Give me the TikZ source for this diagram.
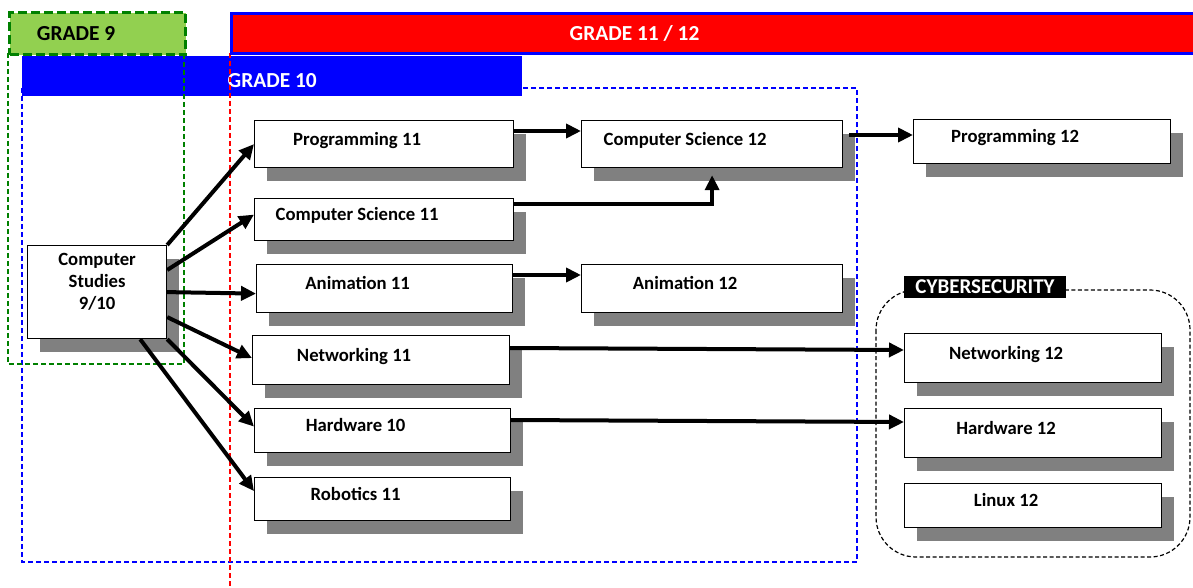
\documentclass[tikz,border=0pt]{standalone}
\usepackage{fontspec}
\setmainfont{Carlito}
\usetikzlibrary{positioning, calc, shadows, arrows.meta}

\definecolor{gradegreen}{RGB}{146,208,80}
\definecolor{darkgreen}{RGB}{0,128,0}
\definecolor{shadowgray}{RGB}{128,128,128}

\begin{document}
\begin{tikzpicture}[x=1pt, y=-1pt,
        box/.style={draw, line width=1.2pt, fill=white, anchor=north west,
            font=\fontsize{18.7}{22}\selectfont\bfseries,
            drop shadow={shadow xshift=12pt, shadow yshift=-13pt, fill=shadowgray, opacity=1}},
        course/.style={box, text height=12pt, text depth=10pt,
            execute at end node={\hspace*{54pt}}},
        studies/.style={box, text width=125pt, align=center,
            execute at end node={\endgraf\rule{0pt}{1pt}}},
        gradelabel/.style={font=\fontsize{21.4}{24}\selectfont\bfseries, anchor=north west, inner sep=0pt},
        arr/.style={line width=4pt, -{Triangle[length=15pt, width=14pt]}}]

        \useasboundingbox (0,0) rectangle (1193,588);

        \draw[blue, line width=1.3pt, dash pattern=on 5pt off 3pt] (22,88) rectangle (857,562);
        \node[gradelabel, fill=blue, text=white, minimum width=500, minimum height=40,
            text height=22pt] (g10) at (22,56) {GRADE 10};

        \draw[darkgreen, line width=1.3pt, dash pattern=on 5pt off 3pt] (8,53) rectangle (184,364);
        \draw[red, line width=1.3pt, dash pattern=on 5pt off 3pt] (230,53) -- (230,588);

        \node[gradelabel, draw=darkgreen, fill=gradegreen, line width=3.2pt, dash pattern=on 9pt off 4pt,
            minimum width=176, minimum height=42, execute at end node={\hspace*{43pt}}] (g9) at (8,11) {GRADE 9};
        \node[gradelabel, draw=blue, fill=red, text=white, line width=3pt,
            minimum width=966, minimum height=40, execute at end node={\hspace*{160pt}}] (g1112) at (230,12) {GRADE 11 / 12};

        \draw[line width=1.2pt, dash pattern=on 4pt off 2.5pt, rounded corners=40] (876,290) rectangle (1190,557);
        \node[fill=black, text=white, font=\fontsize{21}{24}\selectfont\bfseries,
            minimum width=162, minimum height=22, inner sep=0pt] (cyber) at (985,287) {CYBERSECURITY};

        \node[studies, minimum width=139, minimum height=93] (cs910) at (27,245) {Computer\\Studies\\9/10};

        \node[course, minimum width=259, minimum height=47] (prog11) at (254,120) {Programming 11};
        \node[course, minimum width=259, minimum height=42] (cs11) at (254,198) {Computer Science 11};
        \node[course, minimum width=256, minimum height=48] (anim11) at (256,264) {Animation 11};
        \node[course, minimum width=257, minimum height=49] (net11) at (252,335) {Networking 11};
        \node[course, minimum width=256, minimum height=44] (hw10) at (254,408) {Hardware 10};
        \node[course, minimum width=256, minimum height=43] (rob11) at (254,477) {Robotics 11};

        \node[course, minimum width=261, minimum height=47] (cs12) at (581,120) {Computer Science 12};
        \node[course, minimum width=261, minimum height=48] (anim12) at (581,264) {Animation 12};
        \node[course, minimum width=257, minimum height=44] (prog12) at (913,119) {Programming 12};

        \node[course, minimum width=257, minimum height=49] (net12) at (904,333) {Networking 12};
        \node[course, minimum width=257, minimum height=49] (hw12) at (904,408) {Hardware 12};
        \node[course, minimum width=257, minimum height=44] (linux12) at (904,483) {Linux 12};

        \draw[arr] (cs910.north east) -- (prog11.west);
        \draw[arr] ($(cs910.north east)+(0,25)$) -- ($(cs11.west)+(0,-5)$);
        \draw[arr] (cs910.east) -- ($(anim11.west)+(0,5)$);
        \draw[arr] ($(cs910.east)+(0,25)$) -- ($(net11.west)+(0,-2)$);
        \draw[arr] (cs910.south east) -- ($(hw10.west)+(0,-4)$);
        \draw[arr] ($(cs910.south east)+(-27,0)$) -- ($(rob11.west)+(0,-8)$);

        \draw[arr] ($(prog11.north east)+(0,11)$) -- ($(cs12.north west)+(0,11)$);
        \draw[arr] ($(cs11.north east)+(0,6)$) -| ($(cs12.south)+(0,7)$);
        \draw[arr] ($(anim11.north east)+(0,11)$) -- ($(anim12.north west)+(0,11)$);
        \draw[arr] ($(cs12.north east)+(6,15)$) -- ($(prog12.north west)+(0,16)$);
        \draw[arr] ($(net11.north east)+(0,13)$) -- ($(net12.north west)+(0,17)$);
        \draw[arr] ($(hw10.north east)+(0,12)$) -- ($(hw12.north west)+(0,14)$);

    \end{tikzpicture}
\end{document}
